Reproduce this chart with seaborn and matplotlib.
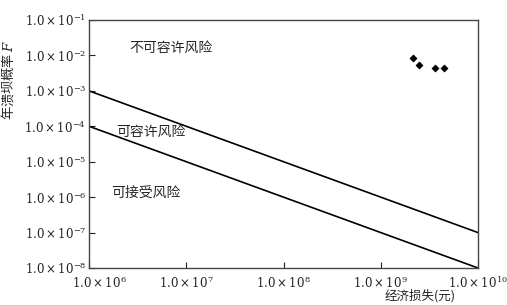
import matplotlib
matplotlib.use("Agg")
import matplotlib.pyplot as plt
import matplotlib.transforms as mtransforms
import seaborn as sns
import pandas as pd
import math
from matplotlib.ticker import FixedLocator, FuncFormatter, NullLocator

sns.set_style("ticks")
plt.rcParams['font.family'] = ['Noto Sans CJK SC', 'DejaVu Sans']
plt.rcParams['mathtext.fontset'] = 'dejavuserif'

# data
line_x = [1e6, 1e10]
upper_line = [1e-3, 1e-7]
lower_line = [1e-4, 1e-8]
pts_x = [2.13e9, 2.47e9, 3.64e9, 4.44e9]
pts_y = [8.3e-3, 5.3e-3, 4.4e-3, 4.4e-3]
x_ticks = [1e6, 1e7, 1e8, 1e9, 1e10]
y_ticks = [1e-8, 1e-7, 1e-6, 1e-5, 1e-4, 1e-3, 1e-2, 1e-1]
region_labels = ["不可容许风险", "可容许风险", "可接受风险"]
region_pos = [(2.6e6, 1.6e-2), (1.9e6, 6.9e-5), (1.7e6, 1.3e-6)]

fig = plt.figure(figsize=(5.07, 3.05), dpi=100)
ax = fig.add_axes([89/507, 1-268/305, (478-89)/507, (268-20)/305])

df_up = pd.DataFrame({"x": line_x, "y": upper_line})
df_lo = pd.DataFrame({"x": line_x, "y": lower_line})
df_pts = pd.DataFrame({"x": pts_x, "y": pts_y})
sns.lineplot(data=df_up, x="x", y="y", ax=ax, color="black", lw=1.2)
sns.lineplot(data=df_lo, x="x", y="y", ax=ax, color="black", lw=1.2)
sns.scatterplot(data=df_pts, x="x", y="y", ax=ax, color="black", marker="D", s=14, edgecolor="black")

ax.set_xscale("log")
ax.set_yscale("log")
ax.set_xlim(1e6, 1e10)
ax.set_ylim(1e-8, 1e-1)

def fmt(v, pos):
    e = int(round(math.log10(v)))
    return r"$1.0\times10^{%d}$" % e

ax.xaxis.set_major_locator(FixedLocator(x_ticks))
ax.yaxis.set_major_locator(FixedLocator(y_ticks))
ax.xaxis.set_minor_locator(NullLocator())
ax.yaxis.set_minor_locator(NullLocator())
ax.xaxis.set_major_formatter(FuncFormatter(fmt))
ax.yaxis.set_major_formatter(FuncFormatter(fmt))
ax.tick_params(direction="in", length=4, width=0.8, labelsize=8.5, colors="#222222")
ax.tick_params(axis="x", pad=5)
ax.tick_params(axis="y", pad=2)

for s in ax.spines.values():
    s.set_linewidth(1.0)
    s.set_color("#444444")

for lab, (x, y) in zip(region_labels, region_pos):
    ax.text(x, y, lab, fontsize=10, va="center", ha="left")

ax.set_xlabel("")
ax.set_ylabel("")
fig.text(8/507, 1-80/305, "年溃坝概率 $F$", rotation=90, fontsize=9.5, ha="center", va="center")
fig.text(420/507, 1-296/305, "经济损失(元)", fontsize=9, ha="center", va="center")

fig.canvas.draw()
first = ax.xaxis.get_major_ticks()[0].label1
first.set_transform(first.get_transform() + mtransforms.ScaledTranslation(10/100, 0, fig.dpi_scale_trans))

fig.savefig("out.png", dpi=100)
